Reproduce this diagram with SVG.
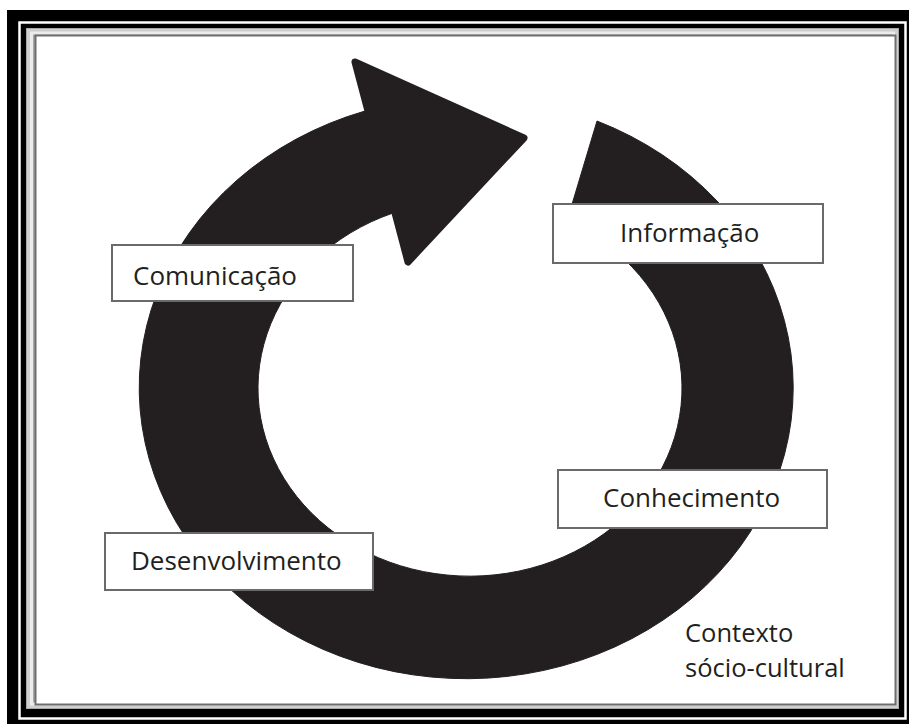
<svg xmlns="http://www.w3.org/2000/svg" width="909" height="724" viewBox="0 0 909 724">
  <style>
    .box { fill: #ffffff; stroke: #6a6a6a; stroke-width: 2; }
    .lbl { font-family: "Open Sans", "Noto Sans", "DejaVu Sans", sans-serif; font-size: 26px; fill: #231f20; }
    .ctx { font-size: 25.5px; }
    .ink { fill: #231f20; stroke: #231f20; }
  </style>
  <g id="frame">
    <rect x="7" y="10" width="902" height="714" fill="#000000"/>
    <rect x="19.5" y="22.5" width="886" height="696" fill="none" stroke="#ffffff" stroke-width="2.5"/>
    <rect x="26" y="28" width="873" height="681" fill="#a8a8a8"/>
    <rect x="28.5" y="30.5" width="868" height="676" fill="none" stroke="#cfcfcf" stroke-width="3"/>
    <rect x="31.5" y="33" width="862" height="671" fill="none" stroke="#ececec" stroke-width="3"/>
    <rect x="35.5" y="35.5" width="860" height="669" fill="#ffffff" stroke="#6e6e6e" stroke-width="2"/>
  </g>
  <g id="connectors">
    <g id="cycle-arrow">
      <path class="ink" stroke-width="1" d="M 365,111 A 327 291 0 1 0 597,121 L 567,221 A 212 188 0 1 1 393,213 Z"/>
      <polygon class="ink" stroke-width="7" stroke-linejoin="round" points="355,62 524,138 408,262"/>
    </g>
  </g>
  <g id="node-comunicacao">
    <rect class="box" x="112" y="245" width="241" height="56"/>
    <text class="lbl" x="133" y="285">Comunicação</text>
  </g>
  <g id="node-informacao">
    <rect class="box" x="553" y="204" width="270" height="59"/>
    <text class="lbl" x="620" y="242">Informação</text>
  </g>
  <g id="node-conhecimento">
    <rect class="box" x="558" y="470" width="269" height="58"/>
    <text class="lbl" x="603" y="507">Conhecimento</text>
  </g>
  <g id="node-desenvolvimento">
    <rect class="box" x="105" y="533" width="268" height="57"/>
    <text class="lbl" x="131" y="570">Desenvolvimento</text>
  </g>
  <g id="node-contexto">
    <text class="lbl ctx" x="685" y="642">Contexto</text>
    <text class="lbl ctx" x="685" y="677">sócio-cultural</text>
  </g>
</svg>
